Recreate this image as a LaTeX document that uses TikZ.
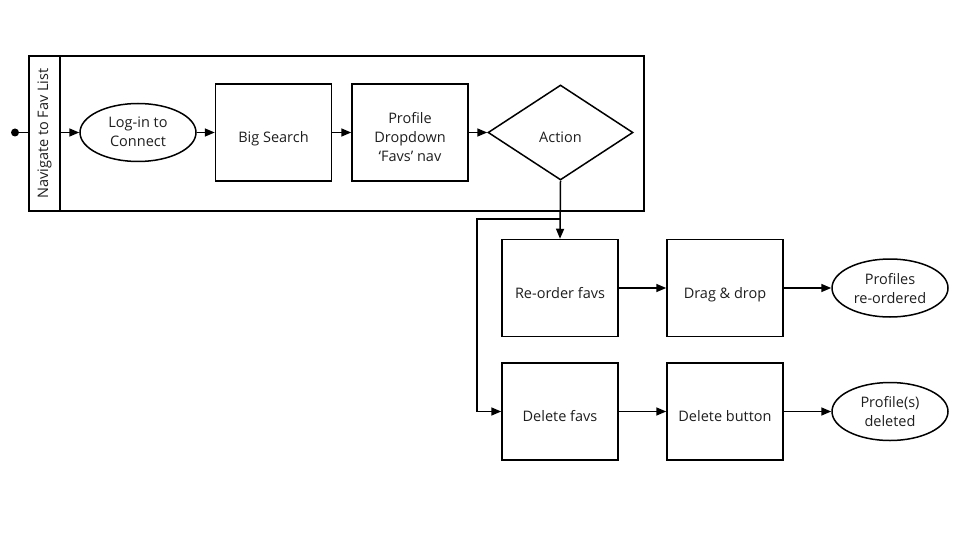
\documentclass[tikz,border=0pt]{standalone}
\usepackage{fontspec}
\setmainfont{Open Sans}
\usetikzlibrary{shapes.geometric,arrows.meta,backgrounds}
\definecolor{txt}{RGB}{30,30,30}
\newcommand{\lowtext}[2][6.5pt]{\raisebox{-#1}[\height][\depth]{\begin{tabular}{@{}c@{}}#2\end{tabular}}}
\begin{document}
\begin{tikzpicture}[x=1pt,y=-1pt,
  every node/.style={font=\fontsize{14.5}{19}\selectfont, text=txt},
  line/.style={line width=1.5pt, draw=black},
  proc/.style={line, rectangle, minimum width=116pt, minimum height=97pt, inner sep=0pt},
  term/.style={line, ellipse, minimum width=116pt, minimum height=58pt, inner sep=0pt},
  decision/.style={line, diamond, minimum width=145pt, minimum height=95pt, inner sep=0pt},
  flow/.style={line width=1.5pt, -{Triangle[length=10pt,width=8pt]}}]
\useasboundingbox (0,0) rectangle (960,540);

% swimlane
\node[line, rectangle, minimum width=615pt, minimum height=155pt, inner sep=0pt] (lane) at (336.5,133.5) {};
\node[line, rectangle, fill=white, minimum width=31pt, minimum height=155pt, inner sep=0pt] (hdr) at (44.5,133.5) {};
\node[rotate=90, inner sep=0pt] (hdrtext) at (hdr.center) {Navigate to Fav List};

% start
\node[circle, fill=black, minimum size=8pt, inner sep=0pt] (start) at (15,132.5) {};

% row 1
\node[term] (login) at (138,132.5) {\lowtext[0.5pt]{Log-in to\\Connect}};
\node[proc] (big) at (273.5,132.5) {\lowtext{Big Search}};
\node[proc] (prof) at (410,132.5) {\lowtext{Profile\\Dropdown\\‘Favs’ nav}};
\node[decision] (action) at (560.5,132.5) {\lowtext{Action}};

% row 2
\node[proc] (reorder) at (560,288) {\lowtext{Re-order favs}};
\node[proc] (drag) at (725,288) {\lowtext{Drag \& drop}};
\node[term] (reord) at (890,288) {\lowtext[2pt]{Profiles\\re-ordered}};

% row 3
\node[proc] (delete) at (560,411.5) {\lowtext{Delete favs}};
\node[proc] (delbtn) at (725,411.5) {\lowtext{Delete button}};
\node[term] (deleted) at (890,411.5) {\lowtext[2pt]{Profile(s)\\deleted}};

% connectors
\begin{pgfonlayer}{background}
\draw[flow] (start.center) -- (login.west);
\end{pgfonlayer}
\draw[flow] (login.east) -- (big.west);
\draw[flow] (big.east) -- (prof.west);
\draw[flow] (prof.east) -- (action.west);
\draw[flow] (action.south) -- (reorder.north);
\coordinate (split) at (560,219);
\coordinate (bend) at (477,219);
\draw[flow] (split) -- (bend) |- (delete.west);
\draw[flow] (reorder.east) -- (drag.west);
\draw[flow] (drag.east) -- (reord.west);
\draw[flow] (delete.east) -- (delbtn.west);
\draw[flow] (delbtn.east) -- (deleted.west);
\end{tikzpicture}
\end{document}
